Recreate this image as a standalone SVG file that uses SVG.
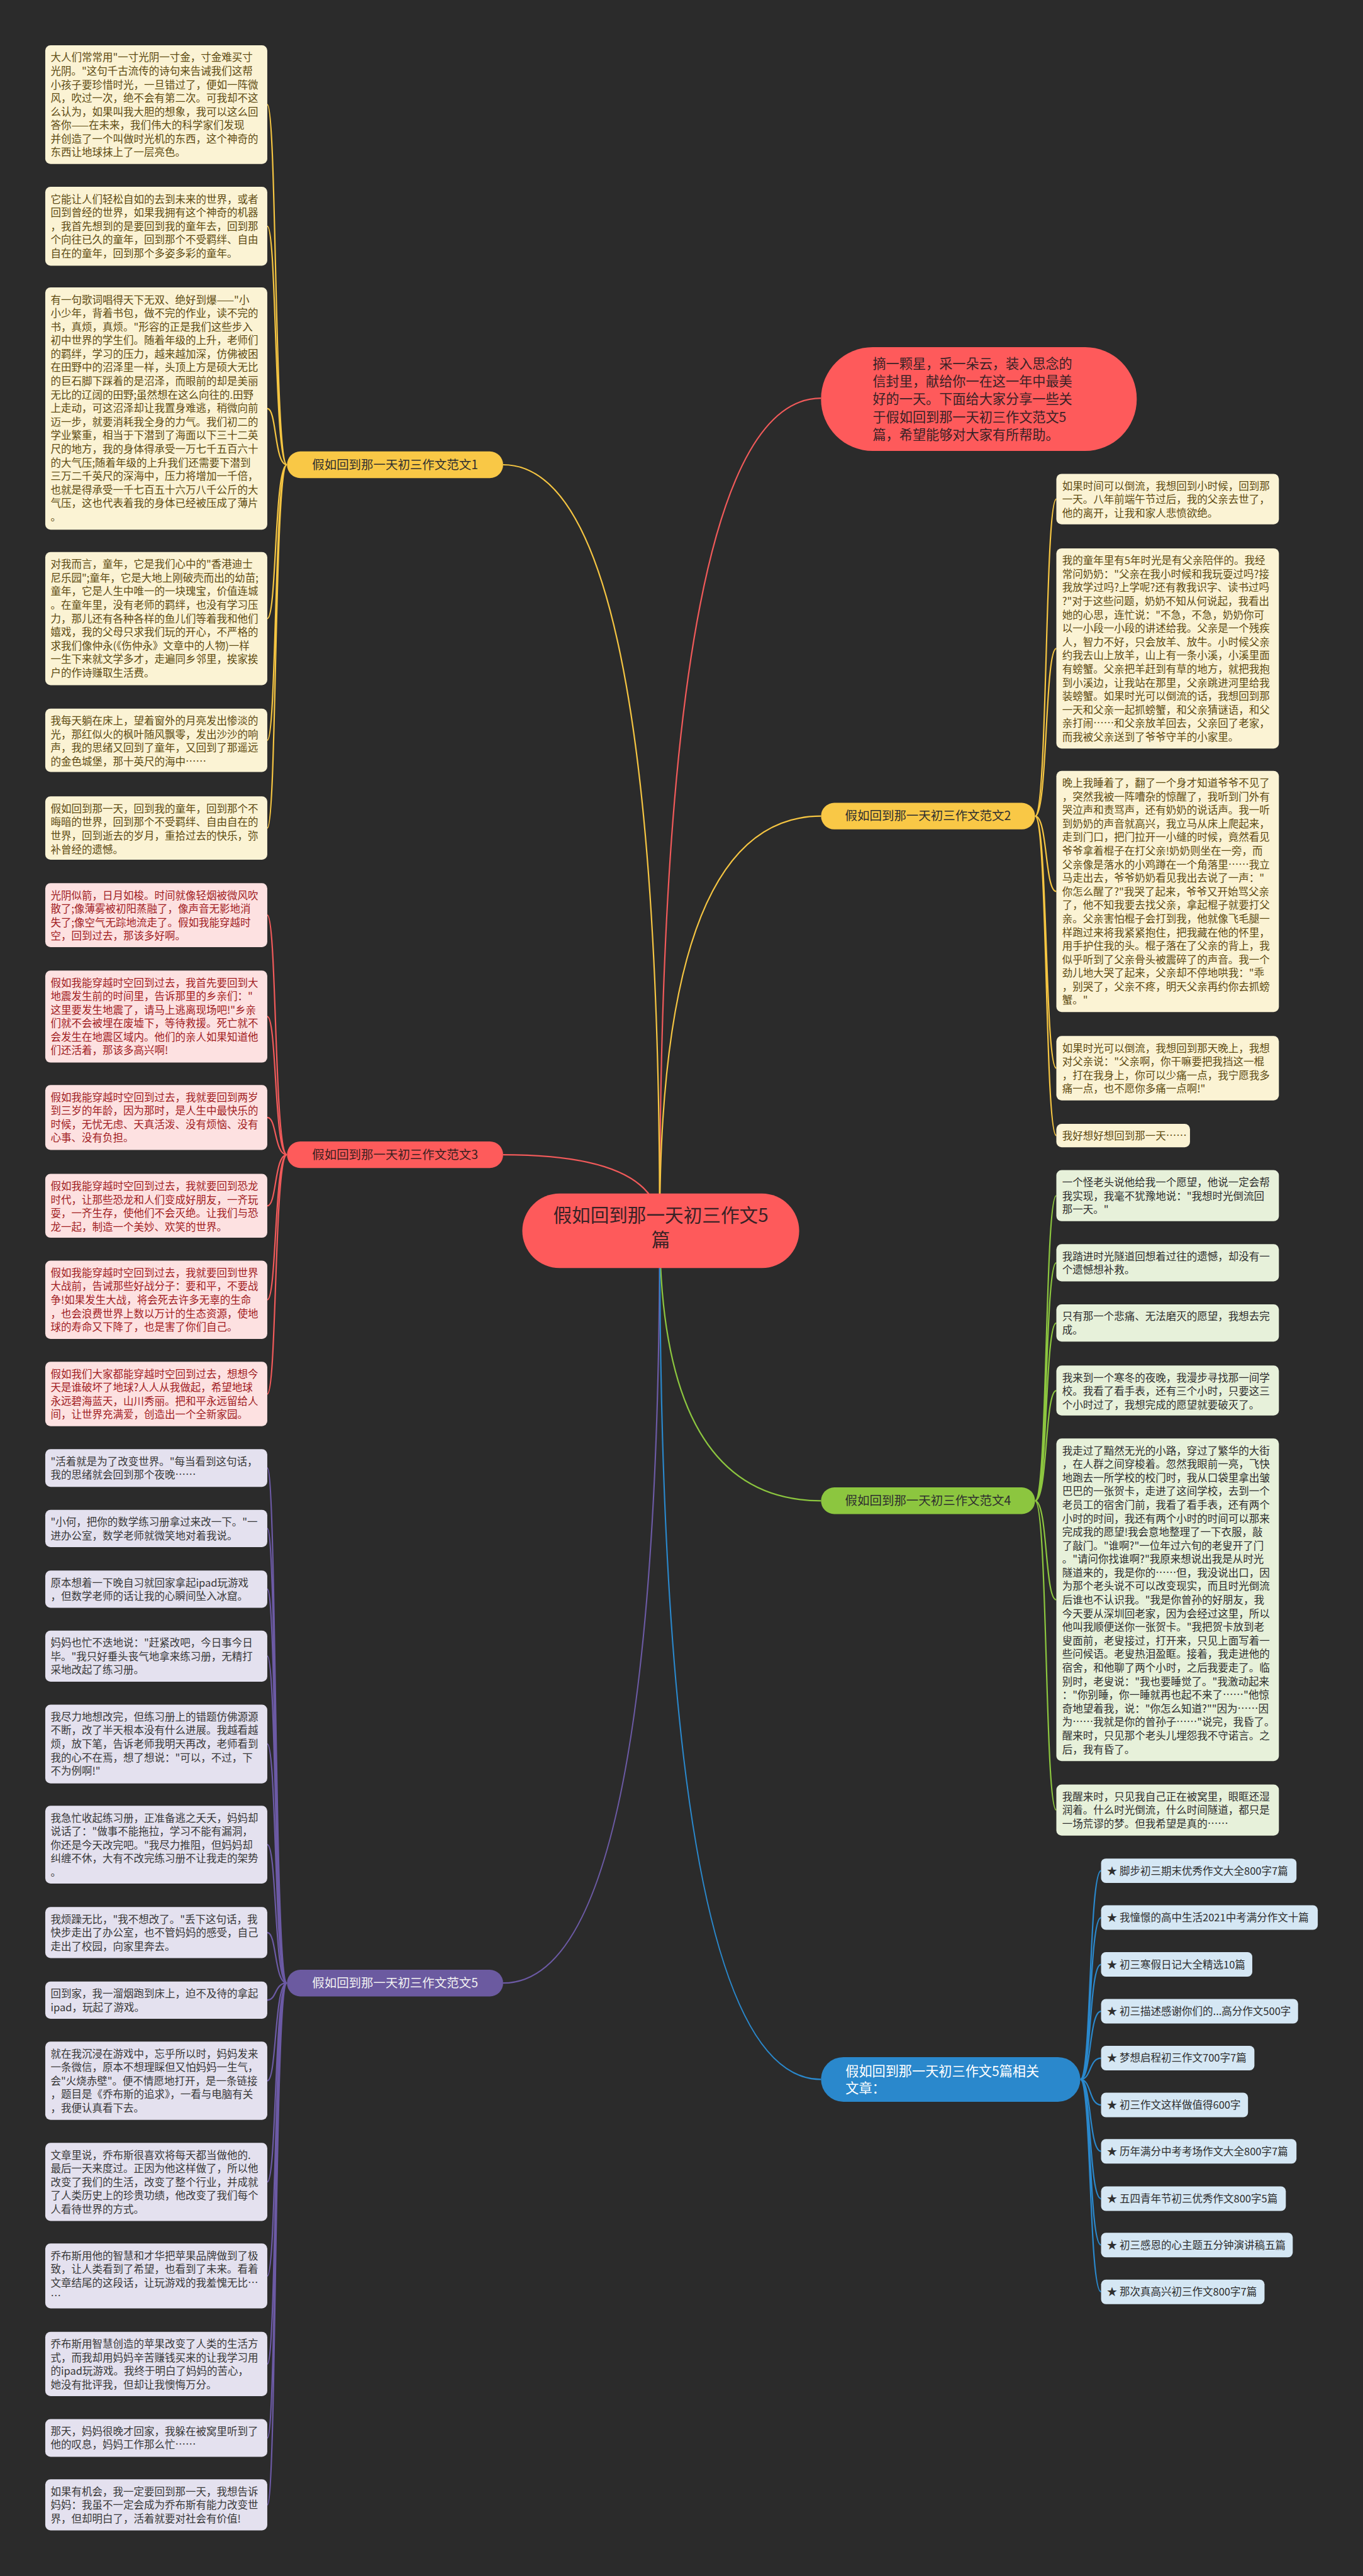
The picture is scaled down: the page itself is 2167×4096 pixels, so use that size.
<svg xmlns="http://www.w3.org/2000/svg" width="2167" height="4096" viewBox="0 0 2167 4096">
<style>
.t{font-family:"Noto Sans CJK SC","Noto Sans",sans-serif;font-size:19.5px}
.lb{font-family:"Noto Sans CJK SC","Noto Sans",sans-serif;font-size:23px}
.by rect{fill:#fbf3d4}.by text{fill:#5e4b12}
.br rect{fill:#fde1e1}.br text{fill:#a11c1f}
.bp rect{fill:#e4e1ef}.bp text{fill:#383838}
.bg rect{fill:#e7f1da}.bg text{fill:#2e2e2e}
.bb rect{fill:#d5e7f4}.bb text{fill:#2e2e2e}
.c path{fill:none;stroke-width:2.6}
.cy{stroke:#f5c542}.cr{stroke:#f15a5a}.cp{stroke:#6c5aa5}.cg{stroke:#8cc63f}.cb{stroke:#2a88cc}
</style>
<g transform="scale(0.8465)">
<rect x="0" y="0" width="2560" height="4839" fill="#2b2b2b"/>
<g id="connectors" class="c">
<path class="cr" d="M1239 2305 Q1239 748 1542 748"/>
<path class="cy" d="M1239 2305 Q1239 873 945 873"/>
<path class="cy" d="M1239 2305 Q1239 1533 1542 1533"/>
<path class="cr" d="M1239 2305 Q1239 2169 945 2169"/>
<path class="cg" d="M1239 2305 Q1239 2819 1542 2819"/>
<path class="cp" d="M1239 2305 Q1239 3725 945 3725"/>
<path class="cb" d="M1239 2305 Q1239 3906 1542 3906"/>
<path class="cy" d="M539 873 C515 873 520 196.5 502 196.5M539 873 C515 873 520 425 502 425M539 873 C515 873 520 767.5 502 767.5M539 873 C515 873 520 1162 502 1162M539 873 C515 873 520 1390.5 502 1390.5M539 873 C515 873 520 1555.5 502 1555.5"/>
<path class="cr" d="M539 2169 C515 2169 520 1719 502 1719M539 2169 C515 2169 520 1909.5 502 1909.5M539 2169 C515 2169 520 2099 502 2099M539 2169 C515 2169 520 2265 502 2265M539 2169 C515 2169 520 2441.5 502 2441.5M539 2169 C515 2169 520 2618.5 502 2618.5"/>
<path class="cp" d="M539 3725 C515 3725 520 2757.5 502 2757.5M539 3725 C515 3725 520 2871 502 2871M539 3725 C515 3725 520 2985 502 2985M539 3725 C515 3725 520 3111 502 3111M539 3725 C515 3725 520 3276 502 3276M539 3725 C515 3725 520 3465 502 3465M539 3725 C515 3725 520 3630 502 3630M539 3725 C515 3725 520 3757 502 3757M539 3725 C515 3725 520 3908.5 502 3908.5M539 3725 C515 3725 520 4098.5 502 4098.5M539 3725 C515 3725 520 4275 502 4275M539 3725 C515 3725 520 4440.5 502 4440.5M539 3725 C515 3725 520 4579.5 502 4579.5M539 3725 C515 3725 520 4705 502 4705"/>
<path class="cy" d="M1944 1533 C1968 1533 1962 937.5 1984 937.5M1944 1533 C1968 1533 1962 1218 1984 1218M1944 1533 C1968 1533 1962 1674.5 1984 1674.5M1944 1533 C1968 1533 1962 2006.5 1984 2006.5M1944 1533 C1968 1533 1962 2133 1984 2133"/>
<path class="cg" d="M1944 2819 C1968 2819 1962 2246 1984 2246M1944 2819 C1968 2819 1962 2372 1984 2372M1944 2819 C1968 2819 1962 2485 1984 2485M1944 2819 C1968 2819 1962 2612 1984 2612M1944 2819 C1968 2819 1962 3005 1984 3005M1944 2819 C1968 2819 1962 3400 1984 3400"/>
<path class="cb" d="M2029 3906 C2050 3906 2045 3514 2068 3514M2029 3906 C2050 3906 2045 3602 2068 3602M2029 3906 C2050 3906 2045 3690 2068 3690M2029 3906 C2050 3906 2045 3778 2068 3778M2029 3906 C2050 3906 2045 3866 2068 3866M2029 3906 C2050 3906 2045 3954 2068 3954M2029 3906 C2050 3906 2045 4041 2068 4041M2029 3906 C2050 3906 2045 4130 2068 4130M2029 3906 C2050 3906 2045 4217 2068 4217M2029 3906 C2050 3906 2045 4305 2068 4305"/>
</g>

<g id="root"><rect x="981" y="2242" width="520" height="140" rx="70" fill="#fe5a5b"/><text x="1241" y="2295" text-anchor="middle" font-family="Noto Sans CJK SC,sans-serif" font-size="35" fill="#3a2226">假如回到那一天初三作文5</text><text x="1241" y="2341" text-anchor="middle" font-family="Noto Sans CJK SC,sans-serif" font-size="35" fill="#3a2226">篇</text></g>

<g id="intro"><rect x="1542" y="652" width="593" height="195" rx="97" fill="#fe5a5b"/><text x="1639" y="692" font-family="Noto Sans CJK SC,sans-serif" font-size="25" fill="#3a2226"><tspan x="1639">摘一颗星，采一朵云，装入思念的</tspan><tspan x="1639" dy="33.5">信封里，献给你一在这一年中最美</tspan><tspan x="1639" dy="33.5">好的一天。下面给大家分享一些关</tspan><tspan x="1639" dy="33.5">于假如回到那一天初三作文范文5</tspan><tspan x="1639" dy="33.5">篇，希望能够对大家有所帮助。</tspan></text></g>

<g id="l1"><rect x="539" y="848" width="406" height="50" rx="25" fill="#f9c846"/><text class="lb" x="742" y="881" text-anchor="middle" fill="#2f2f2f">假如回到那一天初三作文范文1</text></g>
<g id="l3"><rect x="539" y="2144" width="406" height="50" rx="25" fill="#fe5b5b"/><text class="lb" x="742" y="2177" text-anchor="middle" fill="#3a2020">假如回到那一天初三作文范文3</text></g>
<g id="l5"><rect x="539" y="3700" width="406" height="50" rx="25" fill="#6b5aa0"/><text class="lb" x="742" y="3733" text-anchor="middle" fill="#f2f2f2">假如回到那一天初三作文范文5</text></g>
<g id="l2"><rect x="1542" y="1508" width="402" height="50" rx="25" fill="#f9c846"/><text class="lb" x="1743" y="1541" text-anchor="middle" fill="#2f2f2f">假如回到那一天初三作文范文2</text></g>
<g id="l4"><rect x="1542" y="2794" width="402" height="50" rx="25" fill="#8cc63f"/><text class="lb" x="1743" y="2827" text-anchor="middle" fill="#2f2f2f">假如回到那一天初三作文范文4</text></g>
<g id="lrel"><rect x="1542" y="3864" width="487" height="84" rx="42" fill="#2a88cc"/><text x="1588" y="3899" font-family="Noto Sans CJK SC,sans-serif" font-size="25" fill="#ffffff"><tspan x="1588">假如回到那一天初三作文5篇相关</tspan><tspan x="1588" dy="32">文章：</tspan></text></g>

<g id="a1" class="by"><rect x="85" y="85" width="417" height="223" rx="10"/><text class="t" x="95" y="115"><tspan x="95">大人们常常用"一寸光阴一寸金，寸金难买寸</tspan><tspan x="95" dy="25.5">光阴。"这句千古流传的诗句来告诫我们这帮</tspan><tspan x="95" dy="25.5">小孩子要珍惜时光，一旦错过了，便如一阵微</tspan><tspan x="95" dy="25.5">风，吹过一次，绝不会有第二次。可我却不这</tspan><tspan x="95" dy="25.5">么认为，如果叫我大胆的想象，我可以这么回</tspan><tspan x="95" dy="25.5">答你——在未来，我们伟大的科学家们发现</tspan><tspan x="95" dy="25.5">并创造了一个叫做时光机的东西，这个神奇的</tspan><tspan x="95" dy="25.5">东西让地球抹上了一层亮色。</tspan></text></g>
<g id="a2" class="by"><rect x="85" y="351" width="417" height="148" rx="10"/><text class="t" x="95" y="381"><tspan x="95">它能让人们轻松自如的去到未来的世界，或者</tspan><tspan x="95" dy="25.5">回到曾经的世界，如果我拥有这个神奇的机器</tspan><tspan x="95" dy="25.5">，我首先想到的是要回到我的童年去，回到那</tspan><tspan x="95" dy="25.5">个向往已久的童年，回到那个不受羁绊、自由</tspan><tspan x="95" dy="25.5">自在的童年，回到那个多姿多彩的童年。</tspan></text></g>
<g id="a3" class="by"><rect x="85" y="540" width="417" height="455" rx="10"/><text class="t" x="95" y="570"><tspan x="95">有一句歌词唱得天下无双、绝好到爆——"小</tspan><tspan x="95" dy="25.5">小少年，背着书包，做不完的作业，读不完的</tspan><tspan x="95" dy="25.5">书，真烦，真烦。"形容的正是我们这些步入</tspan><tspan x="95" dy="25.5">初中世界的学生们。随着年级的上升，老师们</tspan><tspan x="95" dy="25.5">的羁绊，学习的压力，越来越加深，仿佛被困</tspan><tspan x="95" dy="25.5">在田野中的沼泽里一样，头顶上方是硕大无比</tspan><tspan x="95" dy="25.5">的巨石脚下踩着的是沼泽，而眼前的却是美丽</tspan><tspan x="95" dy="25.5">无比的辽阔的田野;虽然想在这么向往的.田野</tspan><tspan x="95" dy="25.5">上走动，可这沼泽却让我置身难逃，稍微向前</tspan><tspan x="95" dy="25.5">迈一步，就要消耗我全身的力气。我们初二的</tspan><tspan x="95" dy="25.5">学业繁重，相当于下潜到了海面以下三十二英</tspan><tspan x="95" dy="25.5">尺的地方，我的身体得承受一万七千五百六十</tspan><tspan x="95" dy="25.5">的大气压;随着年级的上升我们还需要下潜到</tspan><tspan x="95" dy="25.5">三万二千英尺的深海中，压力将增加一千倍，</tspan><tspan x="95" dy="25.5">也就是得承受一千七百五十六万八千公斤的大</tspan><tspan x="95" dy="25.5">气压，这也代表着我的身体已经被压成了薄片</tspan><tspan x="95" dy="25.5">。</tspan></text></g>
<g id="a4" class="by"><rect x="85" y="1037" width="417" height="250" rx="10"/><text class="t" x="95" y="1067"><tspan x="95">对我而言，童年，它是我们心中的"香港迪士</tspan><tspan x="95" dy="25.5">尼乐园";童年，它是大地上刚破壳而出的幼苗;</tspan><tspan x="95" dy="25.5">童年，它是人生中唯一的一块瑰宝，价值连城</tspan><tspan x="95" dy="25.5">。在童年里，没有老师的羁绊，也没有学习压</tspan><tspan x="95" dy="25.5">力，那儿还有各种各样的鱼儿们等着我和他们</tspan><tspan x="95" dy="25.5">嬉戏，我的父母只求我们玩的开心，不严格的</tspan><tspan x="95" dy="25.5">求我们像仲永(《伤仲永》文章中的人物)一样</tspan><tspan x="95" dy="25.5">一生下来就文学多才，走遍同乡邻里，挨家挨</tspan><tspan x="95" dy="25.5">户的作诗赚取生活费。</tspan></text></g>
<g id="a5" class="by"><rect x="85" y="1331" width="417" height="119" rx="10"/><text class="t" x="95" y="1361"><tspan x="95">我每天躺在床上，望着窗外的月亮发出惨淡的</tspan><tspan x="95" dy="25.5">光，那红似火的枫叶随风飘零，发出沙沙的响</tspan><tspan x="95" dy="25.5">声，我的思绪又回到了童年，又回到了那遥远</tspan><tspan x="95" dy="25.5">的金色城堡，那十英尺的海中……</tspan></text></g>
<g id="a6" class="by"><rect x="85" y="1496" width="417" height="119" rx="10"/><text class="t" x="95" y="1526"><tspan x="95">假如回到那一天，回到我的童年，回到那个不</tspan><tspan x="95" dy="25.5">晦暗的世界，回到那个不受羁绊、自由自在的</tspan><tspan x="95" dy="25.5">世界，回到逝去的岁月，重拾过去的快乐，弥</tspan><tspan x="95" dy="25.5">补曾经的遗憾。</tspan></text></g>

<g id="b1" class="br"><rect x="85" y="1659" width="417" height="120" rx="10"/><text class="t" x="95" y="1689"><tspan x="95">光阴似箭，日月如梭。时间就像轻烟被微风吹</tspan><tspan x="95" dy="25.5">散了;像薄雾被初阳蒸融了，像声音无影地消</tspan><tspan x="95" dy="25.5">失了;像空气无踪地流走了。假如我能穿越时</tspan><tspan x="95" dy="25.5">空，回到过去，那该多好啊。</tspan></text></g>
<g id="b2" class="br"><rect x="85" y="1823" width="417" height="173" rx="10"/><text class="t" x="95" y="1853"><tspan x="95">假如我能穿越时空回到过去，我首先要回到大</tspan><tspan x="95" dy="25.5">地震发生前的时间里，告诉那里的乡亲们："</tspan><tspan x="95" dy="25.5">这里要发生地震了，请马上逃离现场吧!"乡亲</tspan><tspan x="95" dy="25.5">们就不会被埋在废墟下，等待救援。死亡就不</tspan><tspan x="95" dy="25.5">会发生在地震区域内。他们的亲人如果知道他</tspan><tspan x="95" dy="25.5">们还活着，那该多高兴啊!</tspan></text></g>
<g id="b3" class="br"><rect x="85" y="2038" width="417" height="122" rx="10"/><text class="t" x="95" y="2068"><tspan x="95">假如我能穿越时空回到过去，我就要回到两岁</tspan><tspan x="95" dy="25.5">到三岁的年龄，因为那时，是人生中最快乐的</tspan><tspan x="95" dy="25.5">时候，无忧无虑、天真活泼、没有烦恼、没有</tspan><tspan x="95" dy="25.5">心事、没有负担。</tspan></text></g>
<g id="b4" class="br"><rect x="85" y="2205" width="417" height="120" rx="10"/><text class="t" x="95" y="2235"><tspan x="95">假如我能穿越时空回到过去，我就要回到恐龙</tspan><tspan x="95" dy="25.5">时代，让那些恐龙和人们变成好朋友，一齐玩</tspan><tspan x="95" dy="25.5">耍，一齐生存，使他们不会灭绝。让我们与恐</tspan><tspan x="95" dy="25.5">龙一起，制造一个美妙、欢笑的世界。</tspan></text></g>
<g id="b5" class="br"><rect x="85" y="2368" width="417" height="147" rx="10"/><text class="t" x="95" y="2398"><tspan x="95">假如我能穿越时空回到过去，我就要回到世界</tspan><tspan x="95" dy="25.5">大战前，告诫那些好战分子：要和平，不要战</tspan><tspan x="95" dy="25.5">争!如果发生大战，将会死去许多无辜的生命</tspan><tspan x="95" dy="25.5">，也会浪费世界上数以万计的生态资源，使地</tspan><tspan x="95" dy="25.5">球的寿命又下降了，也是害了你们自己。</tspan></text></g>
<g id="b6" class="br"><rect x="85" y="2558" width="417" height="121" rx="10"/><text class="t" x="95" y="2588"><tspan x="95">假如我们大家都能穿越时空回到过去，想想今</tspan><tspan x="95" dy="25.5">天是谁破坏了地球?人人从我做起，希望地球</tspan><tspan x="95" dy="25.5">永远碧海蓝天，山川秀丽。把和平永远留给人</tspan><tspan x="95" dy="25.5">间，让世界充满爱，创造出一个全新家园。</tspan></text></g>

<g id="c1" class="bp"><rect x="85" y="2722" width="417" height="71" rx="10"/><text class="t" x="95" y="2752"><tspan x="95">"活着就是为了改变世界。"每当看到这句话，</tspan><tspan x="95" dy="25.5">我的思绪就会回到那个夜晚……</tspan></text></g>
<g id="c2" class="bp"><rect x="85" y="2836" width="417" height="70" rx="10"/><text class="t" x="95" y="2866"><tspan x="95">"小何，把你的数学练习册拿过来改一下。"一</tspan><tspan x="95" dy="25.5">进办公室，数学老师就微笑地对着我说。</tspan></text></g>
<g id="c3" class="bp"><rect x="85" y="2950" width="417" height="70" rx="10"/><text class="t" x="95" y="2980"><tspan x="95">原本想着一下晚自习就回家拿起ipad玩游戏</tspan><tspan x="95" dy="25.5">，但数学老师的话让我的心瞬间坠入冰窟。</tspan></text></g>
<g id="c4" class="bp"><rect x="85" y="3063" width="417" height="96" rx="10"/><text class="t" x="95" y="3093"><tspan x="95">妈妈也忙不迭地说："赶紧改吧，今日事今日</tspan><tspan x="95" dy="25.5">毕。"我只好垂头丧气地拿来练习册，无精打</tspan><tspan x="95" dy="25.5">采地改起了练习册。</tspan></text></g>
<g id="c5" class="bp"><rect x="85" y="3202" width="417" height="148" rx="10"/><text class="t" x="95" y="3232"><tspan x="95">我尽力地想改完，但练习册上的错题仿佛源源</tspan><tspan x="95" dy="25.5">不断，改了半天根本没有什么进展。我越看越</tspan><tspan x="95" dy="25.5">烦，放下笔，告诉老师我明天再改，老师看到</tspan><tspan x="95" dy="25.5">我的心不在焉，想了想说："可以，不过，下</tspan><tspan x="95" dy="25.5">不为例啊!"</tspan></text></g>
<g id="c6" class="bp"><rect x="85" y="3392" width="417" height="146" rx="10"/><text class="t" x="95" y="3422"><tspan x="95">我急忙收起练习册，正准备逃之夭夭，妈妈却</tspan><tspan x="95" dy="25.5">说话了："做事不能拖拉，学习不能有漏洞，</tspan><tspan x="95" dy="25.5">你还是今天改完吧。"我尽力推阻，但妈妈却</tspan><tspan x="95" dy="25.5">纠缠不休，大有不改完练习册不让我走的架势</tspan><tspan x="95" dy="25.5">。</tspan></text></g>
<g id="c7" class="bp"><rect x="85" y="3582" width="417" height="96" rx="10"/><text class="t" x="95" y="3612"><tspan x="95">我烦躁无比，"我不想改了。"丢下这句话，我</tspan><tspan x="95" dy="25.5">快步走出了办公室，也不管妈妈的感受，自己</tspan><tspan x="95" dy="25.5">走出了校园，向家里奔去。</tspan></text></g>
<g id="c8" class="bp"><rect x="85" y="3722" width="417" height="70" rx="10"/><text class="t" x="95" y="3752"><tspan x="95">回到家，我一溜烟跑到床上，迫不及待的拿起</tspan><tspan x="95" dy="25.5">ipad，玩起了游戏。</tspan></text></g>
<g id="c9" class="bp"><rect x="85" y="3835" width="417" height="147" rx="10"/><text class="t" x="95" y="3865"><tspan x="95">就在我沉浸在游戏中，忘乎所以时，妈妈发来</tspan><tspan x="95" dy="25.5">一条微信，原本不想理睬但又怕妈妈一生气，</tspan><tspan x="95" dy="25.5">会"火烧赤壁"。便不情愿地打开，是一条链接</tspan><tspan x="95" dy="25.5">，题目是《乔布斯的追求》，一看与电脑有关</tspan><tspan x="95" dy="25.5">，我便认真看下去。</tspan></text></g>
<g id="c10" class="bp"><rect x="85" y="4025" width="417" height="147" rx="10"/><text class="t" x="95" y="4055"><tspan x="95">文章里说，乔布斯很喜欢将每天都当做他的.</tspan><tspan x="95" dy="25.5">最后一天来度过。正因为他这样做了，所以他</tspan><tspan x="95" dy="25.5">改变了我们的生活，改变了整个行业，并成就</tspan><tspan x="95" dy="25.5">了人类历史上的珍贵功绩，他改变了我们每个</tspan><tspan x="95" dy="25.5">人看待世界的方式。</tspan></text></g>
<g id="c11" class="bp"><rect x="85" y="4214" width="417" height="122" rx="10"/><text class="t" x="95" y="4244"><tspan x="95">乔布斯用他的智慧和才华把苹果品牌做到了极</tspan><tspan x="95" dy="25.5">致，让人类看到了希望，也看到了未来。看着</tspan><tspan x="95" dy="25.5">文章结尾的这段话，让玩游戏的我羞愧无比…</tspan><tspan x="95" dy="25.5">…</tspan></text></g>
<g id="c12" class="bp"><rect x="85" y="4380" width="417" height="121" rx="10"/><text class="t" x="95" y="4410"><tspan x="95">乔布斯用智慧创造的苹果改变了人类的生活方</tspan><tspan x="95" dy="25.5">式，而我却用妈妈辛苦赚钱买来的让我学习用</tspan><tspan x="95" dy="25.5">的ipad玩游戏。我终于明白了妈妈的苦心，</tspan><tspan x="95" dy="25.5">她没有批评我，但却让我懊悔万分。</tspan></text></g>
<g id="c13" class="bp"><rect x="85" y="4544" width="417" height="71" rx="10"/><text class="t" x="95" y="4574"><tspan x="95">那天，妈妈很晚才回家，我躲在被窝里听到了</tspan><tspan x="95" dy="25.5">他的叹息，妈妈工作那么忙……</tspan></text></g>
<g id="c14" class="bp"><rect x="85" y="4657" width="417" height="96" rx="10"/><text class="t" x="95" y="4687"><tspan x="95">如果有机会，我一定要回到那一天，我想告诉</tspan><tspan x="95" dy="25.5">妈妈：我虽不一定会成为乔布斯有能力改变世</tspan><tspan x="95" dy="25.5">界，但却明白了，活着就要对社会有价值!</tspan></text></g>

<g id="d1" class="by"><rect x="1984" y="890" width="418" height="95" rx="10"/><text class="t" x="1995" y="920"><tspan x="1995">如果时间可以倒流，我想回到小时候，回到那</tspan><tspan x="1995" dy="25.5">一天。八年前端午节过后，我的父亲去世了，</tspan><tspan x="1995" dy="25.5">他的离开，让我和家人悲愤欲绝。</tspan></text></g>
<g id="d2" class="by"><rect x="1984" y="1030" width="418" height="376" rx="10"/><text class="t" x="1995" y="1060"><tspan x="1995">我的童年里有5年时光是有父亲陪伴的。我经</tspan><tspan x="1995" dy="25.5">常问奶奶："父亲在我小时候和我玩耍过吗?接</tspan><tspan x="1995" dy="25.5">我放学过吗?上学呢?还有教我识字、读书过吗</tspan><tspan x="1995" dy="25.5">?"对于这些问题，奶奶不知从何说起，我看出</tspan><tspan x="1995" dy="25.5">她的心思，连忙说："不急，不急，奶奶你可</tspan><tspan x="1995" dy="25.5">以一小段一小段的讲述给我。父亲是一个残疾</tspan><tspan x="1995" dy="25.5">人，智力不好，只会放羊、放牛。小时候父亲</tspan><tspan x="1995" dy="25.5">约我去山上放羊，山上有一条小溪，小溪里面</tspan><tspan x="1995" dy="25.5">有螃蟹。父亲把羊赶到有草的地方，就把我抱</tspan><tspan x="1995" dy="25.5">到小溪边，让我站在那里，父亲跳进河里给我</tspan><tspan x="1995" dy="25.5">装螃蟹。如果时光可以倒流的话，我想回到那</tspan><tspan x="1995" dy="25.5">一天和父亲一起抓螃蟹，和父亲猜谜语，和父</tspan><tspan x="1995" dy="25.5">亲打闹……和父亲放羊回去，父亲回了老家，</tspan><tspan x="1995" dy="25.5">而我被父亲送到了爷爷守羊的小家里。</tspan></text></g>
<g id="d3" class="by"><rect x="1984" y="1448" width="418" height="453" rx="10"/><text class="t" x="1995" y="1478"><tspan x="1995">晚上我睡着了，翻了一个身才知道爷爷不见了</tspan><tspan x="1995" dy="25.5">，突然我被一阵嘈杂的惊醒了，我听到门外有</tspan><tspan x="1995" dy="25.5">哭泣声和责骂声，还有奶奶的说话声。我一听</tspan><tspan x="1995" dy="25.5">到奶奶的声音就高兴，我立马从床上爬起来，</tspan><tspan x="1995" dy="25.5">走到门口，把门拉开一小缝的时候，竟然看见</tspan><tspan x="1995" dy="25.5">爷爷拿着棍子在打父亲!奶奶则坐在一旁，而</tspan><tspan x="1995" dy="25.5">父亲像是落水的小鸡蹲在一个角落里……我立</tspan><tspan x="1995" dy="25.5">马走出去，爷爷奶奶看见我出去说了一声："</tspan><tspan x="1995" dy="25.5">你怎么醒了?"我哭了起来，爷爷又开始骂父亲</tspan><tspan x="1995" dy="25.5">了，他不知我要去找父亲，拿起棍子就要打父</tspan><tspan x="1995" dy="25.5">亲。父亲害怕棍子会打到我，他就像飞毛腿一</tspan><tspan x="1995" dy="25.5">样跑过来将我紧紧抱住，把我藏在他的怀里，</tspan><tspan x="1995" dy="25.5">用手护住我的头。棍子落在了父亲的背上，我</tspan><tspan x="1995" dy="25.5">似乎听到了父亲骨头被震碎了的声音。我一个</tspan><tspan x="1995" dy="25.5">劲儿地大哭了起来，父亲却不停地哄我："乖</tspan><tspan x="1995" dy="25.5">，别哭了，父亲不疼，明天父亲再约你去抓螃</tspan><tspan x="1995" dy="25.5">蟹。"</tspan></text></g>
<g id="d4" class="by"><rect x="1984" y="1946" width="418" height="121" rx="10"/><text class="t" x="1995" y="1976"><tspan x="1995">如果时光可以倒流，我想回到那天晚上，我想</tspan><tspan x="1995" dy="25.5">对父亲说："父亲啊，你干嘛要把我挡这一棍</tspan><tspan x="1995" dy="25.5">，打在我身上，你可以少痛一点，我宁愿我多</tspan><tspan x="1995" dy="25.5">痛一点，也不愿你多痛一点啊!"</tspan></text></g>
<g id="d5" class="by"><rect x="1984" y="2111" width="251" height="44" rx="10"/><text class="t" x="1995" y="2140">我好想好想回到那一天……</text></g>

<g id="e1" class="bg"><rect x="1984" y="2198" width="418" height="96" rx="10"/><text class="t" x="1995" y="2228"><tspan x="1995">一个怪老头说他给我一个愿望，他说一定会帮</tspan><tspan x="1995" dy="25.5">我实现，我毫不犹豫地说："我想时光倒流回</tspan><tspan x="1995" dy="25.5">那一天。"</tspan></text></g>
<g id="e2" class="bg"><rect x="1984" y="2337" width="418" height="70" rx="10"/><text class="t" x="1995" y="2367"><tspan x="1995">我踏进时光隧道回想着过往的遗憾，却没有一</tspan><tspan x="1995" dy="25.5">个遗憾想补救。</tspan></text></g>
<g id="e3" class="bg"><rect x="1984" y="2450" width="418" height="70" rx="10"/><text class="t" x="1995" y="2480"><tspan x="1995">只有那一个悲痛、无法磨灭的愿望，我想去完</tspan><tspan x="1995" dy="25.5">成。</tspan></text></g>
<g id="e4" class="bg"><rect x="1984" y="2565" width="418" height="94" rx="10"/><text class="t" x="1995" y="2595"><tspan x="1995">我来到一个寒冬的夜晚，我漫步寻找那一间学</tspan><tspan x="1995" dy="25.5">校。我看了看手表，还有三个小时，只要这三</tspan><tspan x="1995" dy="25.5">个小时过了，我想完成的愿望就要破灭了。</tspan></text></g>
<g id="e5" class="bg"><rect x="1984" y="2702" width="418" height="606" rx="10"/><text class="t" x="1995" y="2732"><tspan x="1995">我走过了黯然无光的小路，穿过了繁华的大街</tspan><tspan x="1995" dy="25.5">，在人群之间穿梭着。忽然我眼前一亮，飞快</tspan><tspan x="1995" dy="25.5">地跑去一所学校的校门时，我从口袋里拿出皱</tspan><tspan x="1995" dy="25.5">巴巴的一张贺卡，走进了这间学校，去到一个</tspan><tspan x="1995" dy="25.5">老员工的宿舍门前，我看了看手表，还有两个</tspan><tspan x="1995" dy="25.5">小时的时间，我还有两个小时的时间可以那来</tspan><tspan x="1995" dy="25.5">完成我的愿望!我会意地整理了一下衣服，敲</tspan><tspan x="1995" dy="25.5">了敲门。"谁啊?"一位年过六旬的老叟开了门</tspan><tspan x="1995" dy="25.5">。"请问你找谁啊?"我原来想说出我是从时光</tspan><tspan x="1995" dy="25.5">隧道来的，我是你的……但，我没说出口，因</tspan><tspan x="1995" dy="25.5">为那个老头说不可以改变现实，而且时光倒流</tspan><tspan x="1995" dy="25.5">后谁也不认识我。"我是你曾孙的好朋友，我</tspan><tspan x="1995" dy="25.5">今天要从深圳回老家，因为会经过这里，所以</tspan><tspan x="1995" dy="25.5">他叫我顺便送你一张贺卡。"我把贺卡放到老</tspan><tspan x="1995" dy="25.5">叟面前，老叟接过，打开来，只见上面写着一</tspan><tspan x="1995" dy="25.5">些问候语。老叟热泪盈眶。接着，我走进他的</tspan><tspan x="1995" dy="25.5">宿舍，和他聊了两个小时，之后我要走了。临</tspan><tspan x="1995" dy="25.5">别时，老叟说："我也要睡觉了。"我激动起来</tspan><tspan x="1995" dy="25.5">："你别睡，你一睡就再也起不来了……"他惊</tspan><tspan x="1995" dy="25.5">奇地望着我，说："你怎么知道?""因为……因</tspan><tspan x="1995" dy="25.5">为……我就是你的曾孙子……"说完，我昏了。</tspan><tspan x="1995" dy="25.5">醒来时，只见那个老头儿埋怨我不守诺言。之</tspan><tspan x="1995" dy="25.5">后，我有昏了。</tspan></text></g>
<g id="e6" class="bg"><rect x="1984" y="3352" width="418" height="96" rx="10"/><text class="t" x="1995" y="3382"><tspan x="1995">我醒来时，只见我自己正在被窝里，眼眶还湿</tspan><tspan x="1995" dy="25.5">润着。什么时光倒流，什么时间隧道，都只是</tspan><tspan x="1995" dy="25.5">一场荒谬的梦。但我希望是真的……</tspan></text></g>

<g id="r1" class="bb"><rect x="2068" y="3491" width="367" height="46" rx="9"/><text class="t" x="2079" y="3521">★ 脚步初三期末优秀作文大全800字7篇</text></g>
<g id="r2" class="bb"><rect x="2068" y="3579" width="407" height="46" rx="9"/><text class="t" x="2079" y="3609">★ 我憧憬的高中生活2021中考满分作文十篇</text></g>
<g id="r3" class="bb"><rect x="2068" y="3667" width="284" height="46" rx="9"/><text class="t" x="2079" y="3697">★ 初三寒假日记大全精选10篇</text></g>
<g id="r4" class="bb"><rect x="2068" y="3755" width="370" height="46" rx="9"/><text class="t" x="2079" y="3785">★ 初三描述感谢你们的...高分作文500字</text></g>
<g id="r5" class="bb"><rect x="2068" y="3843" width="288" height="46" rx="9"/><text class="t" x="2079" y="3873">★ 梦想启程初三作文700字7篇</text></g>
<g id="r6" class="bb"><rect x="2068" y="3931" width="276" height="46" rx="9"/><text class="t" x="2079" y="3961">★ 初三作文这样做值得600字</text></g>
<g id="r7" class="bb"><rect x="2068" y="4018" width="367" height="46" rx="9"/><text class="t" x="2079" y="4048">★ 历年满分中考考场作文大全800字7篇</text></g>
<g id="r8" class="bb"><rect x="2068" y="4107" width="347" height="46" rx="9"/><text class="t" x="2079" y="4137">★ 五四青年节初三优秀作文800字5篇</text></g>
<g id="r9" class="bb"><rect x="2068" y="4194" width="360" height="46" rx="9"/><text class="t" x="2079" y="4224">★ 初三感恩的心主题五分钟演讲稿五篇</text></g>
<g id="r10" class="bb"><rect x="2068" y="4282" width="307" height="46" rx="9"/><text class="t" x="2079" y="4312">★ 那次真高兴初三作文800字7篇</text></g>
</g>
</svg>
